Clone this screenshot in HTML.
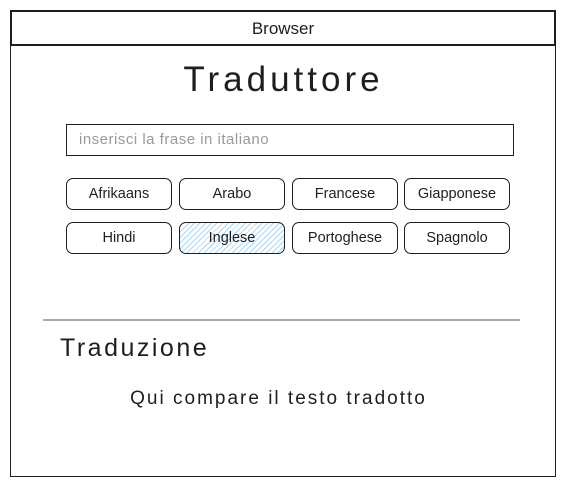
<!DOCTYPE html>
<html><head><style>
body{margin:0;width:567px;height:487px;background:#fff;position:relative;overflow:hidden;font-family:"Liberation Sans",sans-serif;color:#1e1e1e}
.a{position:absolute;box-sizing:border-box}
.btn{position:absolute;box-sizing:border-box;border:1.5px solid #1e1e1e;border-radius:7px;height:32px;width:106px;text-align:center;line-height:30px;font-size:14.5px}
</style></head><body>
<div class="a" style="left:10px;top:10px;width:546px;height:467px;border:1.5px solid #1e1e1e"></div>
<div class="a" style="left:10px;top:10px;width:546px;height:36px;border:2px solid #1e1e1e;text-align:center;line-height:34px;font-size:17px">Browser</div>
<div class="a" style="left:0;top:58px;width:567px;text-align:center;font-size:35px;line-height:44px;letter-spacing:4px">Traduttore</div>
<div class="a" style="left:66px;top:124px;width:448px;height:32px;border:1.5px solid #1e1e1e;padding-left:12px;line-height:30px;font-size:15px;color:#999;letter-spacing:0.5px">inserisci la frase in italiano</div>
<div class="btn" style="left:66px;top:178px">Afrikaans</div>
<div class="btn" style="left:179px;top:178px">Arabo</div>
<div class="btn" style="left:292px;top:178px">Francese</div>
<div class="btn" style="left:404px;top:178px">Giapponese</div>
<div class="btn" style="left:66px;top:222px">Hindi</div>
<div class="btn" style="left:179px;top:222px;background:repeating-linear-gradient(-45deg,#a5d8ff 0 1px,#fff 1px 4px)">Inglese</div>
<div class="btn" style="left:292px;top:222px">Portoghese</div>
<div class="btn" style="left:404px;top:222px">Spagnolo</div>
<div class="a" style="left:43px;top:319px;width:477px;height:2px;background:#aaa"></div>
<div class="a" style="left:60px;top:332px;font-size:25px;line-height:32px;letter-spacing:2.5px">Traduzione</div>
<div class="a" style="left:0;top:387px;width:557px;text-align:center;font-size:19px;line-height:24px;letter-spacing:2px">Qui compare il testo tradotto</div>
</body></html>
